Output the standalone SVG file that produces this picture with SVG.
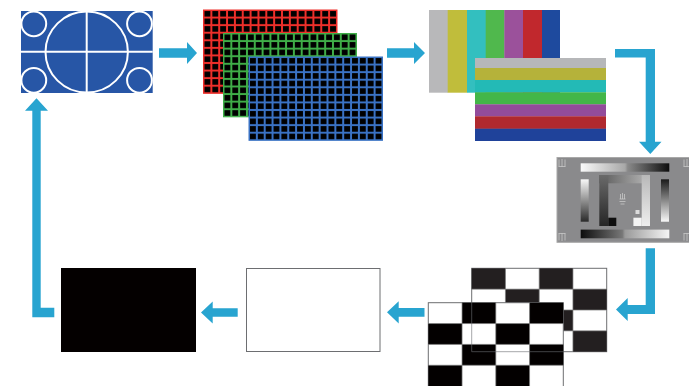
<svg xmlns="http://www.w3.org/2000/svg" width="689" height="386" viewBox="0 0 689 386">
<style>
.arrow{fill:#28a4d0}
.wl{stroke:#fff;stroke-width:2;fill:none}
.cellline{stroke:#7a7a7a;stroke-width:0.7;fill:none}
.mark{stroke:#c8c8c8;stroke-width:0.8;fill:none}
</style>
<defs>
<pattern id="pr" patternUnits="userSpaceOnUse" x="203.5" y="10" width="7.85" height="7.57"><rect width="7.85" height="7.57" fill="#ee2f2a"/><rect x="1" y="1" width="5.85" height="5.57" fill="#000"/></pattern>
<pattern id="pg" patternUnits="userSpaceOnUse" x="223.5" y="33.5" width="7.82" height="7.57"><rect width="7.82" height="7.57" fill="#3fae48"/><rect x="1" y="1" width="5.82" height="5.57" fill="#000"/></pattern>
<pattern id="pb" patternUnits="userSpaceOnUse" x="249" y="57" width="7.85" height="7.57"><rect width="7.85" height="7.57" fill="#3a72c4"/><rect x="1" y="1" width="5.85" height="5.57" fill="#000"/></pattern>
<linearGradient id="gTop" x1="0" y1="0" x2="1" y2="0"><stop offset="0" stop-color="#fafafa"/><stop offset="0.5" stop-color="#a8a8a8"/><stop offset="0.53" stop-color="#8a8a8a"/><stop offset="1" stop-color="#0d0d0d"/></linearGradient>
<linearGradient id="gBot" x1="0" y1="0" x2="1" y2="0"><stop offset="0" stop-color="#0d0d0d"/><stop offset="0.47" stop-color="#777"/><stop offset="0.5" stop-color="#9a9a9a"/><stop offset="1" stop-color="#f5f5f5"/></linearGradient>
<linearGradient id="gLeft" x1="0" y1="0" x2="0" y2="1"><stop offset="0" stop-color="#f8f8f8"/><stop offset="1" stop-color="#2a2a2a"/></linearGradient>
<linearGradient id="gRight" x1="0" y1="0" x2="0" y2="1"><stop offset="0" stop-color="#1a1a1a"/><stop offset="1" stop-color="#f8f8f8"/></linearGradient>
<linearGradient id="gSpL" x1="0" y1="0" x2="0" y2="1"><stop offset="0" stop-color="#6a6a6a"/><stop offset="1" stop-color="#262626"/></linearGradient>
<linearGradient id="gSpT" x1="0" y1="0" x2="1" y2="0"><stop offset="0" stop-color="#5a5a5a"/><stop offset="1" stop-color="#b8b8b8"/></linearGradient>
<linearGradient id="gSpR" x1="0" y1="0" x2="0" y2="1"><stop offset="0" stop-color="#b8b8b8"/><stop offset="1" stop-color="#eeeeee"/></linearGradient>
</defs>

<g id="node-circle-pattern">
<rect x="21" y="11" width="131.7" height="82" fill="#2756a6"/>
<line class="wl" x1="21" y1="51.7" x2="152.7" y2="51.7"/>
<line class="wl" x1="86.7" y1="11" x2="86.7" y2="93"/>
<ellipse class="wl" cx="86.7" cy="52" rx="41.2" ry="40.5"/>
<circle class="wl" cx="33.8" cy="23.8" r="12.4"/>
<circle class="wl" cx="139.5" cy="23.8" r="12.4"/>
<circle class="wl" cx="33.8" cy="80.3" r="12.4"/>
<circle class="wl" cx="139.5" cy="80.3" r="12.4"/>
</g>

<g id="node-rgb-grids">
<rect x="203.5" y="10" width="133.5" height="83.3" fill="url(#pr)" stroke="#ee2f2a" stroke-width="1"/>
<rect x="223.5" y="33.5" width="133" height="83.3" fill="url(#pg)" stroke="#3fae48" stroke-width="1"/>
<rect x="249" y="57" width="133.5" height="83.3" fill="url(#pb)" stroke="#3a72c4" stroke-width="1"/>
</g>

<g id="node-color-bars">
<rect x="429" y="10" width="19" height="82.7" fill="#b8b8ba"/>
<rect x="447.7" y="10" width="19.6" height="82.7" fill="#c0bd3b"/>
<rect x="467" y="10" width="19" height="82.7" fill="#33bfbf"/>
<rect x="485.7" y="10" width="18.9" height="82.7" fill="#50b84d"/>
<rect x="504.3" y="10" width="19" height="82.7" fill="#9b519b"/>
<rect x="523" y="10" width="19.3" height="82.7" fill="#c1282d"/>
<rect x="542" y="10" width="18" height="82.7" fill="#1e4a9e"/>
<rect x="475" y="58" width="131" height="10.2" fill="#b6b7b9"/>
<rect x="475" y="68" width="131" height="12.2" fill="#b5b23a"/>
<rect x="475" y="80" width="131" height="12.5" fill="#23bab6"/>
<rect x="475" y="92.3" width="131" height="12.2" fill="#43b649"/>
<rect x="475" y="104.3" width="131" height="12.2" fill="#934c9b"/>
<rect x="475" y="116.3" width="131" height="12.6" fill="#b0292f"/>
<rect x="475" y="128.7" width="131" height="12.3" fill="#1f429a"/>
</g>

<g id="node-grey-scale">
<rect x="557" y="157.5" width="133" height="84.8" fill="#8a8a8c" stroke="#a8a8a8" stroke-width="1"/>
<rect x="580.7" y="163.3" width="88.6" height="8.4" fill="url(#gTop)"/>
<rect x="580.7" y="229.6" width="88.6" height="8.7" fill="url(#gBot)"/>
<rect x="580.7" y="179.3" width="8" height="42.4" fill="url(#gLeft)"/>
<rect x="661" y="179.3" width="8" height="42.4" fill="url(#gRight)"/>
<rect x="599.3" y="175" width="50.7" height="8.3" fill="url(#gSpT)"/>
<rect x="599.3" y="175" width="9" height="51" fill="url(#gSpL)"/>
<rect x="641.7" y="175" width="8.3" height="51" fill="url(#gSpR)"/>
<rect x="608.3" y="217.7" width="8" height="8.3" fill="#0e0e0e"/>
<rect x="633.4" y="217.7" width="8.3" height="8.3" fill="#f4f4f4"/>
<rect x="635.5" y="210" width="4" height="4" fill="#dcdcdc"/>
<g class="mark">
<path d="M620.5,194 v5 M622.5,193 v6 M624.5,194 v5 M619.5,199 h6 M619.5,201.5 h6 M620.5,204 h4"/>
<path d="M559,159.5 v7 M562,159 v8 M565,159.5 v7 M558.5,166.5 h7"/>
<path d="M684,159.5 v7 M687,159 v8 M683.5,166.5 h6"/>
<path d="M559,233.5 v7 M562,233 v8 M565,233.5 v7 M558.5,233.5 h7"/>
<path d="M684,233.5 v7 M687,233 v8 M683.5,233.5 h6"/>
</g>
</g>

<g id="node-checkerboards">
<rect x="471.7" y="268.3" width="135" height="83.4" fill="#fff" stroke="#6d6e71" stroke-width="1"/>
<g fill="#231f20">
<rect x="471.7" y="268.3" width="33.75" height="20.85"/>
<rect x="539.2" y="268.3" width="33.75" height="20.85"/>
<rect x="505.45" y="289.15" width="33.75" height="20.85"/>
<rect x="572.95" y="289.15" width="33.75" height="20.85"/>
<rect x="471.7" y="310" width="33.75" height="20.85"/>
<rect x="539.2" y="310" width="33.75" height="20.85"/>
<rect x="505.45" y="330.85" width="33.75" height="20.85"/>
<rect x="572.95" y="330.85" width="33.75" height="20.85"/>
</g>
<path class="cellline" d="M505.45,268.3 V351.7 M539.2,268.3 V351.7 M572.95,268.3 V351.7 M471.7,289.15 H606.7 M471.7,310 H606.7 M471.7,330.85 H606.7"/>
<rect x="428.3" y="302.7" width="135" height="84" fill="#fff" stroke="#6d6e71" stroke-width="1"/>
<g fill="#030000">
<rect x="462.05" y="302.7" width="33.75" height="20.85"/>
<rect x="529.55" y="302.7" width="33.75" height="20.85"/>
<rect x="428.3" y="323.55" width="33.75" height="20.85"/>
<rect x="495.8" y="323.55" width="33.75" height="20.85"/>
<rect x="462.05" y="344.4" width="33.75" height="20.85"/>
<rect x="529.55" y="344.4" width="33.75" height="20.85"/>
<rect x="428.3" y="365.25" width="33.75" height="20.85"/>
<rect x="495.8" y="365.25" width="33.75" height="20.85"/>
</g>
<path class="cellline" d="M462.05,302.7 V386 M495.8,302.7 V386 M529.55,302.7 V386 M428.3,323.55 H563.3 M428.3,344.4 H563.3 M428.3,365.25 H563.3"/>
<path d="M471.7,302.7 V351.7 H563.3" fill="none" stroke="#6d6e71" stroke-width="1" opacity="0.6"/>
</g>

<g id="node-white">
<rect x="246.5" y="268.5" width="133.5" height="83" fill="#fff" stroke="#6d6e71" stroke-width="1"/>
</g>

<g id="node-black">
<rect x="61" y="268" width="135" height="84" fill="#040000"/>
</g>

<g id="connectors">
<path class="arrow" d="M159,48.3 H187 V42 L197,53 L187,64 V57.7 H159 Z"/>
<path class="arrow" d="M387,48.3 H414 V42 L425,53 L414,64 V57.7 H387 Z"/>
<path class="arrow" d="M615,49 H655 V141.7 H661.5 L650.3,154 L639,141.7 H645.7 V57.5 H615 Z"/>
<path class="arrow" d="M645.7,248.3 H655 V314 H627.7 V321 L616,309.5 L627.7,298 V305 H645.7 Z"/>
<path class="arrow" d="M424.5,307.9 H398.7 V301.2 L387,312.3 L398.7,323.4 V316.7 H424.5 Z"/>
<path class="arrow" d="M237.7,308.3 H212.7 V301.5 L201,312.5 L212.7,323.5 V316.7 H237.7 Z"/>
<path class="arrow" d="M54.3,317.3 H32.3 V110.7 H25 L36.5,98.3 L48,110.7 H40.7 V307.7 H54.3 Z"/>
</g>
</svg>
